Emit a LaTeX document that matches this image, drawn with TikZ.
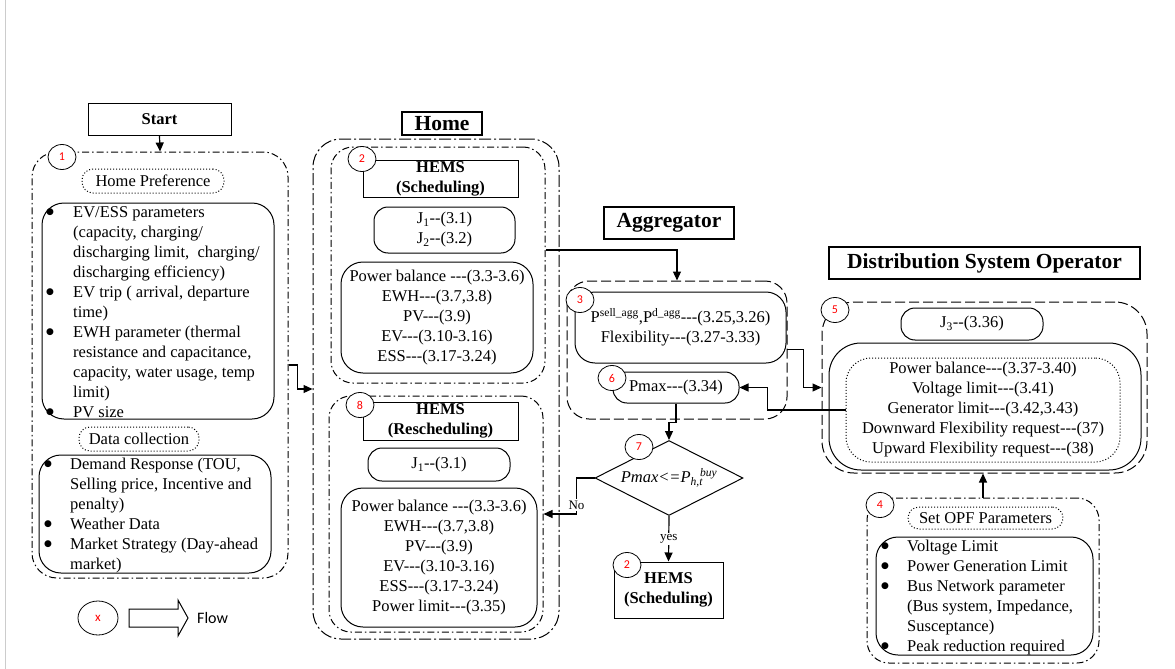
\documentclass[tikz,border=0pt]{standalone}
\usepackage{fontspec}
\setmainfont{Liberation Serif}[Ligatures=TeXOff]
\setsansfont{Carlito}
\newfontfamily\symfont{DejaVu Sans}
\usetikzlibrary{arrows.meta, positioning, shapes.geometric}

\newcommand{\base}{\fontsize{16.5}{20}\selectfont}
\newcommand{\bul}{\raisebox{2.5pt}{\symfont\fontsize{9}{9}\selectfont ●}}

\begin{document}
\begin{tikzpicture}[
    x=1pt, y=-1pt,
    font=\base,
    every node/.style={inner sep=0pt},
    plain/.style={draw, line width=1pt, align=center},
    title/.style={draw, line width=1.2pt, font=\bfseries\fontsize{21.5}{24}\selectfont},
    rbox/.style={draw, line width=1pt, rounded corners=#1, align=center},
    rbox/.default=20pt,
    dotbox/.style={draw, line width=1pt, dotted, rounded corners=11pt, align=center},
    dashdot/.style={draw, line width=1pt, rounded corners=25pt, dash pattern=on 7pt off 3pt on 1.5pt off 3pt},
    longdashdot/.style={draw, line width=1pt, rounded corners=28pt, dash pattern=on 12pt off 3pt on 2pt off 3pt},
    longdash/.style={draw, line width=1pt, rounded corners=#1, dash pattern=on 10pt off 4pt},
    longdash/.default=22pt,
    tag/.style={ellipse, draw, fill=white, line width=0.8pt, minimum width=28pt, minimum height=25pt, text=red, font=\sffamily\fontsize{12}{12}\selectfont},
    link/.style={line width=1.2pt, -{Triangle[length=9pt, width=8pt]}},
    lbl/.style={fill=white, inner sep=1.5pt, font=\fontsize{13}{15}\selectfont}
]
   \fill[white] (0,0) rectangle (1175,669);
   \useasboundingbox (0,0) rectangle (1175,669);
   \draw[black!20] (5,0) -- (5,669);

   % Block 1: inputs
   \node[plain, font=\base\bfseries, minimum width=143pt, minimum height=32pt] (start) at (159.5,119) {Start};
   \node[dashdot, minimum width=256pt, minimum height=426pt] (blk1) at (160,365) {};
   \node[dotbox, minimum width=142pt, minimum height=24pt] (pref) at (153,181) {Home Preference};
   \node[rbox=22pt, minimum width=232pt, minimum height=216pt] (prefbox) at (158,311) {};
   \node[anchor=north west] (preflist) at (46,203) {\begin{tabular}{@{}p{27pt}@{}l@{}}
      \bul & EV/ESS parameters\\
       & (capacity, charging/\\
       & discharging limit,\ \ charging/\\
       & discharging efficiency)\\
      \bul & EV trip ( arrival, departure\\
       & time)\\
      \bul & EWH parameter (thermal\\
       & resistance and capacitance,\\
       & capacity, water usage, temp\\
       & limit)\\
      \bul & PV size
   \end{tabular}};
   \node[dotbox, minimum width=120pt, minimum height=24pt] (data) at (139,439) {Data collection};
   \node[rbox=22pt, minimum width=232pt, minimum height=118pt] (databox) at (155,514) {};
   \node[anchor=north west] (datalist) at (44,455) {\begin{tabular}{@{}p{26pt}@{}l@{}}
      \bul & Demand Response (TOU,\\
       & Selling price, Incentive and\\
       & penalty)\\
      \bul & Weather Data\\
      \bul & Market Strategy (Day-ahead\\
       & market)
   \end{tabular}};
   \node[tag] (c1) at (62,157) {1};

   % Legend
   \node[tag, minimum width=40pt, minimum height=34pt, font=\sffamily\fontsize{13}{13}\selectfont] (cx) at (98,618) {x};
   \draw[line width=1pt] (129,609) -- (178,609) -- (178,600) -- (188,618) -- (178,636) -- (178,627) -- (129,627) -- cycle;
   \node[anchor=west, font=\sffamily\fontsize{16}{18}\selectfont] (flow) at (197,618) {Flow};

   % Home
   \node[title, minimum width=80pt, minimum height=23pt] (home) at (442,123.5) {Home};
   \node[longdashdot, minimum width=246pt, minimum height=500pt] (homeouter) at (436,389) {};
   \node[dashdot, rounded corners=22pt, minimum width=214pt, minimum height=236pt] (sched) at (438,265) {};
   \node[plain, font=\base\bfseries, minimum width=155pt, minimum height=37pt] (hemsA) at (440.5,178.5) {HEMS\\(Scheduling)};
   \node[rbox=14pt, minimum width=141pt, minimum height=46pt] (jA) at (444.5,230) {J\textsubscript{1}--(3.1)\\J\textsubscript{2}--(3.2)};
   \node[rbox=22pt, minimum width=192pt, minimum height=111pt] (consA) at (437,317.5) {Power balance ---(3.3-3.6)\\EWH---(3.7,3.8)\\PV---(3.9)\\EV---(3.10-3.16)\\ESS---(3.17-3.24)};
   \node[dashdot, rounded corners=22pt, minimum width=214pt, minimum height=236pt] (resched) at (436,514) {};
   \node[plain, font=\base\bfseries, minimum width=155pt, minimum height=38pt] (hemsB) at (440.5,421) {HEMS\\(Rescheduling)};
   \node[rbox=14pt, minimum width=142pt, minimum height=33pt] (jB) at (439,464.5) {J\textsubscript{1}--(3.1)};
   \node[rbox=22pt, minimum width=196pt, minimum height=139pt] (consB) at (439,557.5) {Power balance ---(3.3-3.6)\\EWH---(3.7,3.8)\\PV---(3.9)\\EV---(3.10-3.16)\\ESS---(3.17-3.24)\\Power limit---(3.35)};
   \node[tag] (c2) at (362,159) {2};
   \node[tag] (c8) at (360,405) {8};

   % Aggregator
   \node[title, minimum width=130pt, minimum height=32pt] (agg) at (669,223) {Aggregator};
   \node[longdash, minimum width=220pt, minimum height=138pt] (aggouter) at (677,350) {};
   \node[rbox=20pt, minimum width=211pt, minimum height=71pt] (flexbox) at (680.5,327.5) {P\textsuperscript{sell\_agg},P\textsuperscript{d\_agg}---(3.25,3.26)\\Flexibility---(3.27-3.33)};
   \node[rbox=14pt, minimum width=126pt, minimum height=31pt] (pmax) at (676,387.5) {Pmax---(3.34)};
   \node[diamond, draw, line width=1pt, aspect=2, minimum width=148pt, minimum height=75pt, font=\base\itshape] (dec) at (669,478) {Pmax<=P\textsubscript{h,t}\kern-3pt\textsuperscript{buy}};
   \node[plain, font=\base\bfseries, minimum width=109pt, minimum height=56pt] (hemsC) at (668.5,590) {HEMS\\(Scheduling)};
   \node[tag] (c3) at (580,300) {3};
   \node[tag] (c6) at (612,378) {6};
   \node[tag] (c7) at (639,447) {7};
   \node[tag] (c2b) at (627,565) {2};

   % Distribution System Operator
   \node[title, minimum width=311pt, minimum height=32pt] (dso) at (984.5,263) {Distribution System Operator};
   \node[longdash=32pt, minimum width=325pt, minimum height=171pt] (dsoouter) at (984.5,387.5) {};
   \node[rbox=14pt, minimum width=142pt, minimum height=32pt] (jC) at (972,324) {J\textsubscript{3}--(3.36)};
   \node[rbox=32pt, minimum width=312pt, minimum height=127pt] (dsobox) at (985,406.5) {};
   \node[dotbox, rounded corners=25pt, minimum width=274pt, minimum height=104pt] (dsodots) at (983,410) {Power balance---(3.37-3.40)\\Voltage limit---(3.41)\\Generator limit---(3.42,3.43)\\Downward Flexibility request---(37)\\Upward Flexibility request---(38)};
   \node[tag] (c5) at (835,310) {5};

   % Block 4: OPF parameters
   \node[dashdot, rounded corners=22pt, minimum width=232pt, minimum height=165pt] (blk4) at (983,580.5) {};
   \node[dotbox, minimum width=155pt, minimum height=22pt] (opf) at (985.5,518) {Set OPF Parameters};
   \node[rbox=22pt, minimum width=217pt, minimum height=118pt] (opfbox) at (984.5,596) {};
   \node[anchor=north west] (opflist) at (881,537) {\begin{tabular}{@{}p{26pt}@{}l@{}}
      \bul & Voltage Limit\\
      \bul & Power Generation Limit\\
      \bul & Bus Network parameter\\
       & (Bus system, Impedance,\\
       & Susceptance)\\
      \bul & Peak reduction required
   \end{tabular}};
   \node[tag] (c4) at (880,505) {4};

   % Connectors
   \draw[link] (start.south) -- (blk1.north);
   \draw[link] (blk1.east) -- ++(9,0) |- (homeouter.west);
   \draw[link] ([yshift=15pt]sched.east) -| (aggouter.north);
   \draw[link] ([yshift=-22pt]flexbox.east) -- ++(17,0) |- (dsoouter.west);
   \draw[link] (dsodots.west) -| ([xshift=28pt]pmax.east) -- (pmax.east);
   \draw[link] (pmax.south) -- ++(0,19) -| (dec.north);
   \draw[link] (dec.west) -- ++(-18,0) |- node[lbl, pos=0.375] {No} (resched.east);
   \draw[link] (dec.south) -- node[lbl] {yes} (hemsC.north);
   \draw[link] (blk4.north) -- (blk4.north |- dsoouter.south);
\end{tikzpicture}
\end{document}
